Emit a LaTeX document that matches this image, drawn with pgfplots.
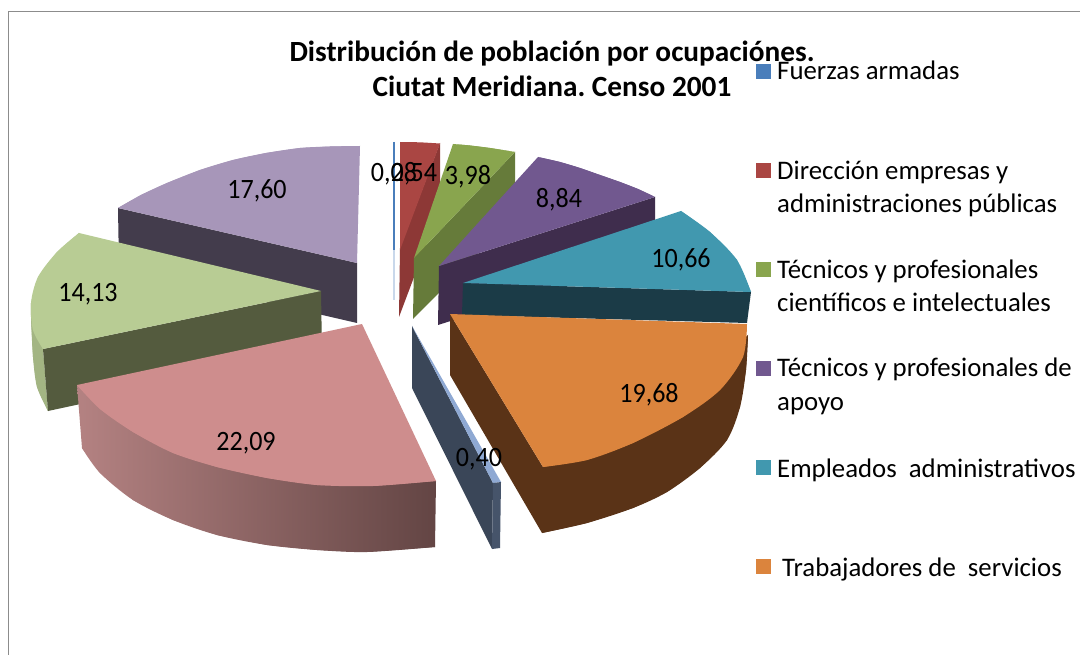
\documentclass[border=0pt]{standalone}
\usepackage{pgfplots}
\pgfplotsset{compat=1.18}
\usepackage{fontspec}
\setmainfont{Carlito}
\frenchspacing
\definecolor{fa}{HTML}{4A7EBB}
\definecolor{de}{HTML}{AA4643}
\definecolor{des}{HTML}{8D3836}
\definecolor{tc}{HTML}{89A54E}
\definecolor{tcs}{HTML}{667B3A}
\definecolor{ta}{HTML}{71588F}
\definecolor{tas}{HTML}{3F2D4D}
\definecolor{ea}{HTML}{4198AF}
\definecolor{eas}{HTML}{1B3B47}
\definecolor{ts}{HTML}{DB843D}
\definecolor{tss}{HTML}{5A3317}
\definecolor{ob}{HTML}{8FA9D3}
\definecolor{obs}{HTML}{3A4658}
\definecolor{obe}{HTML}{46546A}
\definecolor{lp}{HTML}{A796B9}
\definecolor{lps}{HTML}{433C4C}
\definecolor{lg}{HTML}{B8CC94}
\definecolor{lgs}{HTML}{545B3E}
\definecolor{lgo}{HTML}{A3B583}
\definecolor{pk}{HTML}{CE8D8D}
\definecolor{pkl}{HTML}{B48282}
\definecolor{pkr}{HTML}{634544}
\definecolor{bd}{HTML}{8C8C8C}
\newcommand{\poly}[2]{\addplot[fill=#1,draw=none,forget plot] coordinates {#2} -- cycle;}
\newcommand{\bulge}[2]{\addplot[fill=#1,draw=none,smooth,forget plot] coordinates {#2} -- cycle;}
\newcommand{\lab}[3]{\node[font=\fontsize{28}{30}\selectfont,text=black,inner sep=0pt] at (axis cs:#1,#2) {\scalebox{0.93}[1]{#3}};}
\newcommand{\leg}[3]{\node[font=\fontsize{26.8}{30}\selectfont,text=black,inner sep=0pt,anchor=base west] at (axis cs:#1,#2) {#3};}
\begin{document}
\begin{tikzpicture}
\begin{axis}[scale only axis,width=1080pt,height=655pt,xmin=0,xmax=1080,ymin=0,ymax=655,y dir=reverse,hide axis,no markers]
\poly{white}{(0,0)(1080,0)(1080,655)(0,655)}
\addplot[bd,line width=1.6pt,forget plot] coordinates {(1080,11.5)(8.5,11.5)(8.5,655)};
% 0,08
\addplot[fa,line width=1.4pt,forget plot] coordinates {(394,142)(394,250)};
\addplot[fa!30,line width=1.4pt,forget plot] coordinates {(394,250)(394,300)};
% 2,54
\poly{des}{(400,248)(440,143)(440,208)(399,317)}
\poly{de}{(400,142)(420,142.3)(440,143.5)(400,250)}
% 3,98
\poly{tcs}{(414,258)(515,152)(515,216)(413,319)}
\bulge{tc}{(453,144)(470,145.5)(490,148)(515,152)}
\poly{tc}{(453,144)(470,145.5)(490,148)(515,152)(414,258)}
% 8,84
\poly{tas}{(439,266)(655,197)(655,256)(438,325)}
\bulge{ta}{(538,157)(560,162)(580,168)(600,175)(620,182)(638,189)(655,197)}
\poly{ta}{(538,157)(560,162)(580,168)(600,175)(620,182)(638,189)(655,197)(439,266)}
% 10,66
\poly{eas}{(463,283)(751,292)(747,323)(462,315)}
\bulge{ea}{(681,211)(710,232)(737,260)(751,292)}
\poly{ea}{(681,211)(710,232)(737,260)(751,292)(463,283)}
% 19,68
\bulge{tss}{(748,335)(746,370)(740,407)(727,440)(700,468)(667,492)(633,508)(587,523)(542,533)}
\poly{tss}{(450,314)(543,467)(743,357)(748,335)(746,370)(740,407)(727,440)(700,468)(667,492)(633,508)(587,523)(542,533)(450,375)}
\bulge{ts}{(747,324)(743,357)(720,390)(683,417)(633,443)(587,460)(543,467)}
\poly{ts}{(450,314)(747,324)(743,357)(720,390)(683,417)(633,443)(587,460)(543,467)}
% 0,40
\poly{obs}{(412,326)(493,483)(492,549)(412,388)}
\poly{ob}{(412,326)(501,482)(493,483)}
\poly{obe}{(493,483)(501,482)(500,548)(492,549)}
% 17,60
\poly{lps}{(118,208)(357,263)(357,323)(119,268)}
\bulge{lp}{(360,146)(330,146.5)(300,148)(266,153)(233,160)(200,170)(167,183)(141,195)(118,208)}
\poly{lp}{(360,146)(330,146.5)(300,148)(266,153)(233,160)(200,170)(167,183)(141,195)(118,208)(357,263)}
% 14,13
\bulge{lgo}{(31,303)(31,317)(33,357)(37,387)(48,411)}
\poly{lgo}{(31,303)(43,349)(48,411)(37,387)(33,357)(31,317)}
\poly{lgs}{(321,291)(43,349)(48,411)(322,352)}
\bulge{lg}{(79,233)(57,252)(38,277)(31,303)(33,330)(43,349)}
\poly{lg}{(79,233)(57,252)(38,277)(31,303)(33,330)(43,349)(321,291)}
% 22,09
\addplot[left color=pkl,right color=pkr,draw=none,smooth,forget plot] coordinates {(82,448)(100,473)(133,500)(173,520)(217,535)(267,545)(317,550)(367,552)(435,547)} -- cycle;
\addplot[left color=pkl,right color=pkr,draw=none,forget plot] coordinates {(77,385)(436,481)(435,547)(367,552)(317,550)(267,545)(217,535)(173,520)(133,500)(100,473)(82,448)} -- cycle;
\bulge{pk}{(77,385)(100,409)(133,432)(173,453)(217,467)(267,478)(317,485)(373,486)(436,481)}
\poly{pk}{(362,324)(436,481)(373,486)(317,485)(267,478)(217,467)(173,453)(133,432)(100,409)(77,385)}
% legend
\poly{fa}{(756,64)(771,64)(771,79)(756,79)}
\poly{de}{(756,163)(771,163)(771,178)(756,178)}
\poly{tc}{(756,262)(771,262)(771,277)(756,277)}
\poly{ta}{(756,361)(771,361)(771,376)(756,376)}
\poly{ea}{(756,460)(771,460)(771,475)(756,475)}
\poly{ts}{(756,559)(771,559)(771,574)(756,574)}
% data labels
\lab{394}{174}{0,08}
\lab{414}{174}{2,54}
\lab{468}{177}{3,98}
\lab{559}{200}{8,84}
\lab{681}{260}{10,66}
\lab{649}{395}{19,68}
\lab{479}{459}{0,40}
\lab{246}{443}{22,09}
\lab{88}{294}{14,13}
\lab{257}{191}{17,60}
% legend text
\leg{777}{80}{Fuerzas armadas}
\leg{777}{180}{Dirección empresas y}
\leg{777}{213}{administraciones públicas}
\leg{777}{279}{Técnicos y profesionales}
\leg{777}{312}{científicos e intelectuales}
\leg{777}{377}{Técnicos y profesionales de}
\leg{777}{410}{apoyo}
\leg{777}{477}{Empleados\ \ administrativos}
\leg{782}{576}{Trabajadores de\ \ servicios}
% title
\node[font=\fontsize{29.3}{30}\selectfont\bfseries,text=black,inner sep=0pt,anchor=base] at (axis cs:552,61.5) {Distribución de población por ocupaciónes.};
\node[font=\fontsize{29.3}{30}\selectfont\bfseries,text=black,inner sep=0pt,anchor=base] at (axis cs:552,97) {Ciutat Meridiana. Censo 2001};
\end{axis}
\end{tikzpicture}
\end{document}
